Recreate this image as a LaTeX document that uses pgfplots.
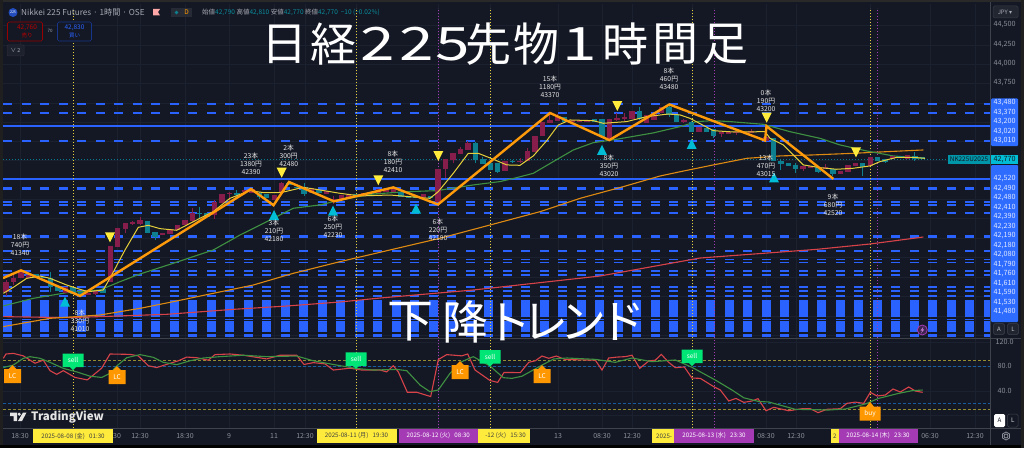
\documentclass[border=0pt]{standalone}
\usepackage{pgfplots}
\usepackage{pgfplotstable}
\pgfplotsset{compat=1.18}
\usepackage{fontspec}
\setmainfont{Noto Sans CJK JP}
\newfontfamily\djv{DejaVu Sans}
\usetikzlibrary{calc}

\definecolor{bg}{HTML}{141824}
\definecolor{gridc}{HTML}{1C2130}
\definecolor{lvl}{HTML}{2962FF}
\definecolor{lab}{HTML}{2E6BFF}
\definecolor{crim}{HTML}{871D4A}
\definecolor{tealc}{HTML}{0E7F8E}
\definecolor{tri}{HTML}{00BCD4}
\definecolor{ylw}{HTML}{FFEB3B}
\definecolor{ma5}{HTML}{E5CF3A}
\definecolor{ma25}{HTML}{3F9142}
\definecolor{ma75}{HTML}{DE8A12}
\definecolor{ma200}{HTML}{D8434A}
\definecolor{zig}{HTML}{FF9A0A}
\definecolor{dotp}{HTML}{A43BB5}
\definecolor{gry}{HTML}{8B8F99}
\definecolor{hdr}{HTML}{A6A9B2}
\definecolor{tvt}{HTML}{0A8C9C}
\definecolor{sellg}{HTML}{00E676}
\definecolor{lco}{HTML}{FF9800}
\newcommand\fs[1]{\fontsize{#1}{#1}\selectfont}

% candles: bar no, body top, body bottom, high, low
\pgfplotstableread{
i t b h l
0 41194 41065 41210 41014
1 41246 41186 41280 41151
2 41315 41246 41315 41246
3 41280 41237 41280 41237
8 41130 41044 41130 41044
11 41053 41018 41053 41018
12 41078 41035 41078 41023
14 41655 41194 41655 41194
15 41891 41646 41891 41646
16 41947 41874 41947 41818
17 41968 41943 41981 41930
18 41990 41938 42033 41930
21 41818 41801 41818 41801
22 41870 41809 41870 41809
23 41930 41857 41930 41857
24 41990 41925 41990 41925
25 42085 41977 42140 41968
28 42227 42055 42248 42000
29 42330 42214 42330 42214
30 42343 42330 42355 42214
32 42377 42355 42377 42355
33 42386 42343 42386 42343
36 42313 42248 42313 42248
37 42463 42334 42485 42334
41 42398 42334 42398 42334
43 42368 42330 42368 42330
44 42257 42239 42300 42196
45 42308 42265 42308 42265
46 42325 42282 42325 42282
48 42343 42300 42343 42300
50 42386 42343 42386 42343
51 42377 42351 42377 42351
52 42399 42351 42399 42351
56 42325 42282 42325 42282
58 42648 42227 42648 42227
59 42773 42644 42773 42528
60 42850 42764 42850 42721
61 42910 42837 42936 42837
62 42983 42893 43009 42893
67 42747 42622 42747 42622
69 42751 42742 42785 42721
70 42876 42755 42915 42755
71 43078 42867 43078 42867
72 43250 43078 43250 43078
73 43280 43237 43345 43237
74 43323 43271 43353 43271
76 43280 43263 43280 43263
77 43280 43259 43280 43259
78 43276 43259 43276 43259
81 43289 43022 43289 43022
82 43310 43284 43366 43271
83 43314 43289 43366 43271
84 43392 43297 43392 43297
86 43345 43237 43345 43237
87 43357 43280 43357 43280
88 43452 43366 43452 43366
91 43280 43254 43289 43237
93 43194 43129 43194 43129
96 43121 43099 43121 43056
97 43125 43104 43125 43104
98 43129 43117 43129 43087
99 43129 43121 43129 43121
100 43138 43121 43160 43121
102 43065 43013 43065 43013
107 42691 42648 42691 42626
108 42687 42665 42687 42665
110 42678 42648 42712 42648
112 42626 42588 42626 42588
113 42695 42614 42695 42614
114 42721 42691 42721 42691
116 42807 42687 42807 42687
119 42816 42773 42816 42773
121 42829 42773 42829 42773
}\upc
\pgfplotstableread{
i t b h l
4 41293 41237 41293 41237
5 41259 41237 41259 41237
6 41237 41121 41324 41065
7 41139 41078 41139 41078
9 41121 41035 41121 41035
10 41065 41014 41065 41014
13 41096 41044 41096 41044
19 41981 41827 41981 41827
20 41831 41775 41831 41732
26 42085 42067 42153 42012
27 42076 42033 42076 42033
31 42334 42321 42377 42291
34 42343 42291 42355 42257
35 42321 42270 42321 42270
38 42463 42441 42463 42441
39 42420 42407 42420 42407
40 42420 42321 42463 42300
42 42377 42343 42377 42343
47 42325 42291 42325 42291
49 42356 42325 42356 42325
53 42356 42291 42356 42291
54 42304 42278 42304 42278
55 42300 42270 42300 42270
57 42300 42274 42300 42274
63 42979 42764 43000 42730
64 42777 42712 42798 42712
65 42721 42635 42721 42635
66 42730 42614 42730 42592
68 42751 42738 42764 42721
75 43314 43259 43314 43237
79 43289 43259 43289 43259
80 43297 43065 43297 43065
85 43392 43293 43452 43280
89 43452 43345 43474 43323
90 43353 43259 43353 43259
92 43259 43129 43271 43129
94 43172 43129 43172 43129
95 43160 43078 43160 43043
101 43138 43125 43138 43125
103 43043 42755 43043 42755
104 42755 42708 42773 42635
105 42721 42687 42721 42687
106 42700 42648 42730 42592
109 42678 42614 42678 42592
111 42648 42583 42648 42558
115 42721 42669 42721 42558
117 42807 42747 42807 42747
118 42773 42738 42773 42721
120 42816 42785 42816 42785
122 42816 42773 42871 42751
123 42798 42773 42798 42773
}\dnc

% marks, origin at the tip
\pgfdeclareplotmark{tup}{\pgfpathmoveto{\pgfqpoint{0pt}{5pt}}\pgfpathlineto{\pgfqpoint{5pt}{-5pt}}\pgfpathlineto{\pgfqpoint{-5pt}{-5pt}}\pgfpathclose\pgfusepathqfill}
\pgfdeclareplotmark{tdn}{\pgfpathmoveto{\pgfqpoint{0pt}{-5pt}}\pgfpathlineto{\pgfqpoint{5pt}{5pt}}\pgfpathlineto{\pgfqpoint{-5pt}{5pt}}\pgfpathclose\pgfusepathqfill}
\pgfdeclareplotmark{sellf}{\pgfsetfillcolor{sellg}\pgfpathmoveto{\pgfqpoint{0pt}{0pt}}\pgfpathlineto{\pgfqpoint{3pt}{3pt}}\pgfpathlineto{\pgfqpoint{10.5pt}{3pt}}\pgfpathlineto{\pgfqpoint{10.5pt}{16.5pt}}\pgfpathlineto{\pgfqpoint{-10.5pt}{16.5pt}}\pgfpathlineto{\pgfqpoint{-10.5pt}{3pt}}\pgfpathlineto{\pgfqpoint{-3pt}{3pt}}\pgfpathclose\pgfusepathqfill\pgftext[at=\pgfqpoint{0pt}{10pt}]{\color{white}\fs{6.5}sell}}
\pgfdeclareplotmark{lcf}{\pgfsetfillcolor{lco}\pgfpathmoveto{\pgfqpoint{0pt}{0pt}}\pgfpathlineto{\pgfqpoint{4pt}{-4pt}}\pgfpathlineto{\pgfqpoint{8.5pt}{-4pt}}\pgfpathlineto{\pgfqpoint{8.5pt}{-18pt}}\pgfpathlineto{\pgfqpoint{-8.5pt}{-18pt}}\pgfpathlineto{\pgfqpoint{-8.5pt}{-4pt}}\pgfpathlineto{\pgfqpoint{-4pt}{-4pt}}\pgfpathclose\pgfusepathqfill\pgftext[at=\pgfqpoint{0pt}{-11pt}]{\color{white}\fs{6.5}LC}}
\pgfdeclareplotmark{buyf}{\pgfsetfillcolor{lco}\pgfpathmoveto{\pgfqpoint{0pt}{0pt}}\pgfpathlineto{\pgfqpoint{4pt}{-5pt}}\pgfpathlineto{\pgfqpoint{10.5pt}{-5pt}}\pgfpathlineto{\pgfqpoint{10.5pt}{-19pt}}\pgfpathlineto{\pgfqpoint{-10.5pt}{-19pt}}\pgfpathlineto{\pgfqpoint{-10.5pt}{-5pt}}\pgfpathlineto{\pgfqpoint{-4pt}{-5pt}}\pgfpathclose\pgfusepathqfill\pgftext[at=\pgfqpoint{0pt}{-12pt}]{\color{white}\fs{6.5}buy}}

\newcommand\lv[2]{\addplot[lvl,line width=#2pt,dash pattern=on 9pt off 9.5pt] coordinates {(3.3,#1)(990,#1)};}
\newcommand\lvs[2]{\addplot[lvl,line width=#2pt] coordinates {(3.3,#1)(990,#1)};}
\newcommand\vd[2]{\addplot[#1,line width=0.9pt,dash pattern=on 1.4pt off 1.6pt] coordinates {(#2,39306)(#2,44724)};}
\newcommand\candles[2]{%
  \addplot[draw=none,mark=none,forget plot,error bars/.cd,y dir=both,y explicit,error mark=none,error bar style={#2,line width=1pt}]
    table[x expr=6+7.45*\thisrow{i},y expr=(\thisrow{t}+\thisrow{b})/2,
      y error plus expr=\thisrow{h}-(\thisrow{t}+\thisrow{b})/2,
      y error minus expr=(\thisrow{t}+\thisrow{b})/2-\thisrow{l}] {#1};
  \addplot[draw=none,mark=none,forget plot,error bars/.cd,y dir=both,y explicit,error mark=none,error bar style={#2,line width=5.4pt}]
    table[x expr=6+7.45*\thisrow{i},y expr=(\thisrow{t}+\thisrow{b})/2,
      y error expr=(\thisrow{t}-\thisrow{b})/2] {#1};}
\newcommand\note[5]{%
  \node[txt] at (#1,#2) {#3};\node[txt] at (#1,#2+8) {#4};\node[txt] at (#1,#2+16) {#5};}
\newcommand\bigc[3]{\node[inner sep=0,white,font=\fs{46}] at (#1,#2) {#3};}
\newcommand\bigd[2]{\node[inner sep=0,white,font=\fs{46}] at (#1,44) {\scalebox{1.35}[1]{#2}};}
\newcommand\pl[2]{\node[inner sep=0,text=white!85!lab,font=\fs{7.2}] at (1004.5,#1) {#2};}
\newcommand\tl[2]{\node[inner sep=0,text=gry,font=\fs{7}] at (#1,436) {#2};}

\begin{document}
\begin{tikzpicture}
\fill[bg] (0,0) rectangle (1024pt,448pt);
\begin{scope}[x=1pt,y=-1pt,shift={(0,448pt)}]
  \foreach \x in {20,117,140,185,229,274,305,356,438,490,558,602,632,692,766,796,870,930,975}
    \draw[gridc,line width=0.7pt] (\x,4) -- (\x,428);
  \foreach \y in {25,45,64,83,103,122,141,160,179,199,218,238,257,277,296,316,335,342,366,391,415}
    \draw[gridc,line width=0.7pt] (3,\y) -- (990,\y);
\end{scope}

% price pane, x in pixels of the chart
\begin{axis}[at={(0,0)},anchor=south west,scale only axis,width=1024pt,height=448pt,
  xmin=0,xmax=1024,ymin=39048.35,ymax=44827.55,axis lines=none,clip=true]
  \lv{43480}{2}\lv{43370}{1.3}\lvs{43200}{2.5}\lv{43010}{2.5}\lvs{42520}{2.5}
  \lv{42400}{3}\lv{42225}{2}\lv{42180}{2}\lv{42080}{1.5}\lv{41775}{3.5}
  \lv{41590}{2}\lv{41480}{1.5}\lv{41440}{1.5}\lv{41330}{1.5}\lv{41280}{1.5}
  \lv{41130}{2}\lv{41070}{2}\lv{41010}{2}\lv{40848}{17}\lv{40712}{1}\lv{40616}{11}\lv{40497}{2.5}
  \addplot[tri!60!bg,line width=0.6pt,dash pattern=on 1pt off 2pt] coordinates {(3,42770)(948,42770)};
  \vd{ma5}{73}\vd{ma5}{356}\vd{ma5}{490}\vd{ma5}{692}\vd{ma5}{870.5}
  \vd{dotp}{438}\vd{dotp}{714}\vd{dotp}{877.5}
  % long averages
  \addplot[ma200,line width=1.1pt] coordinates {(3.3,40743)(66.7,40730)(100,40743)(166.7,40773)(233.3,40837)(286.7,40880)(340,40932)(380,40983)(473,41086)(600,41267)(700,41499)(816.7,41611)(870,41680)(923.3,41770)};
  \addplot[ma75,line width=1.1pt] coordinates {(3.3,40614)(50,40721)(100,40764)(140,40850)(173.3,40936)(213.3,41044)(253.3,41151)(293.3,41302)(340,41452)(390,41603)(440,41754)(490,41925)(540,42097)(580,42269)(623.3,42420)(660,42557)(680,42612)(713.3,42700)(746.7,42785)(780,42816)(813.3,42829)(853.3,42850)(886.7,42871)(923.3,42893)};
  \addplot[ma25,line width=1.1pt] coordinates {(3.3,40881)(33.3,40979)(66.7,41052)(100,41087)(120,41194)(140,41293)(173.3,41431)(213.3,41603)(240,41796)(266.7,41968)(293.3,42141)(320,42184)(340,42248)(373.3,42325)(406.7,42355)(436.7,42368)(473.3,42442)(500,42485)(516.7,42536)(533.3,42592)(553.3,42743)(573.3,42893)(593.3,42987)(616.7,43031)(653.3,43113)(680,43194)(696.7,43259)(713.3,43271)(730,43259)(763.3,43224)(790,43129)(820,43043)(840,42958)(866.7,42880)(893.3,42816)(923.3,42785)};
  \candles{\upc}{crim}
  \candles{\dnc}{tealc}
  \addplot[ma5,line width=1pt] coordinates {(3.3,41044)(13.3,41121)(26.7,41237)(40,41267)(50,41237)(66.7,41151)(80,41095)(88.3,41065)(103.3,41087)(111.7,41280)(125,41603)(138.3,41895)(148.3,41921)(160,41878)(176.7,41857)(193.3,41968)(213.3,42098)(230,42270)(250,42368)(263.3,42343)(278.3,42343)(285,42355)(303.3,42411)(320,42377)(340,42334)(360,42300)(390,42312)(430,42269)(438.3,42356)(453.3,42592)(468.3,42850)(478.3,42850)(493.3,42773)(506.7,42700)(520,42695)(533.3,42816)(546.7,43013)(558.3,43215)(570,43280)(593.3,43271)(603.3,43237)(626.7,43259)(646.7,43323)(668.3,43357)(680,43345)(690,43301)(713.3,43142)(733.3,43125)(765,43129)(770,43043)(783.3,42958)(803.3,42700)(820,42665)(836.7,42644)(853.3,42657)(870,42687)(880,42743)(896.7,42798)(913.3,42798)(925,42785)};
  \addplot[zig,line width=2.4pt,line join=miter] coordinates {(3,41240)(21,41340)(80,41010)(251,42390)(273.5,42180)(289,42480)(334,42230)(393.3,42410)(438,42190)(550,43370)(609.3,43020)(669.3,43480)(765,43015)(766.5,43200)(833.3,42520)};
  \addplot[only marks,mark=tup,color=tri] coordinates {(65,40936)(274,42054)(333,42110)(416,42135)(602,42893)(691.7,42970)(774,42540)};
  \addplot[only marks,mark=tdn,color=ylw] coordinates {(110,41766)(281.7,42600)(378.3,42502)(438.3,42815)(617.3,43460)(766.7,43309)(856,42863)};
\end{axis}

% oscillator pane
\begin{axis}[at={(0,20pt)},anchor=south west,scale only axis,width=1024pt,height=91pt,
  xmin=0,xmax=1024,ymin=-20,ymax=127.56,axis lines=none,clip=false]
  \addplot[ylw!55!bg,line width=0.8pt,dash pattern=on 3pt off 2pt] coordinates {(3,90)(990,90)};
  \addplot[ylw!55!bg,line width=0.8pt,dash pattern=on 3pt off 2pt] coordinates {(3,10)(990,10)};
  \addplot[lvl!60!tri,line width=0.8pt,dash pattern=on 3pt off 2pt,opacity=.6] coordinates {(3,80)(990,80)};
  \addplot[lvl!60!tri,line width=0.8pt,dash pattern=on 3pt off 2pt,opacity=.6] coordinates {(3,20)(990,20)};
  \addplot[ma200,line width=1.1pt] coordinates {(3.3,93)(6,100)(13.3,101)(23.3,97)(35,85)(43.3,90)(50,73)(56.7,67)(63.3,73)(75,62)(87.3,58)(101.7,77)(110,100)(130,99.4)(138.3,97)(148.3,81)(156.7,78)(168.3,84)(178.3,89)(186.7,95)(196.7,94)(208.3,90)(215,99)(230,100)(243.3,98)(266.7,92)(280,98)(296.7,98)(304,83)(313.3,86)(325,84)(333.3,74)(350,77)(361.7,74)(380,74)(386.7,71)(393.3,81)(398.3,71)(407.3,38)(416.7,38)(430.7,31)(438.3,91)(446.7,99)(461.7,97)(467.7,100)(475,74)(490,57)(497.7,54)(504,70)(512,70)(520.3,69.7)(528.7,86.5)(535.3,89)(542,96.7)(548.7,93)(556.3,96.7)(565.3,91)(595.3,90)(602,74)(608.7,93.5)(617,95)(625.3,95.7)(632,98)(639.7,76.7)(648.7,88.6)(655.3,90)(661.3,99.4)(668.7,86.5)(675.3,77.8)(684.3,79)(692,61)(700.3,60.5)(713.7,47)(720.3,41.6)(728.7,23.8)(736,28)(743.7,21.6)(752,23.8)(758,27.6)(766,8)(773.7,13.5)(788.7,8)(802,11.3)(810.3,11.3)(818,4.9)(827,10.3)(840.3,11.3)(847,20)(855.3,22)(863.7,20)(870.3,37.8)(877,31.9)(885.3,33.5)(893,43.2)(900.3,38.4)(908.7,46.5)(915.3,40)(922.7,37.8)};
  \addplot[ma25,line width=1.1pt] coordinates {(3.3,78)(13.3,82)(23.3,93)(30,95.7)(40,93)(50,86.5)(63.3,76.7)(76.7,71)(90,64)(101.7,62)(110,68.6)(116.7,80.5)(126.7,94)(140,99)(153.3,94.6)(163.3,86.5)(176.7,82.7)(190,89)(203.3,93.5)(220,95.7)(243.3,98)(266.7,95.7)(296.7,96.7)(313.3,89)(333.3,83)(355.7,76.7)(373.3,74)(396.7,75)(406.7,73)(420,49.7)(430,38.9)(438.3,41.6)(450,68.6)(461.7,87.5)(473.3,95.7)(490,80.5)(503.3,61.6)(512,60.5)(522,64)(532,73)(542,82)(553.7,91.9)(567,93.5)(595.3,91.3)(615.3,86.5)(632,93.5)(652,87.5)(675.3,90.3)(692,78.4)(715.3,57.8)(732,41.6)(743.7,29)(758.7,23)(768.7,22.2)(795.3,10.3)(828.7,9.2)(845.3,10.8)(865.3,18.9)(878.7,28.1)(898.7,36.2)(912,40.5)(922.7,41.6)};
  \addplot[only marks,mark=sellf] coordinates {(73,74)(356,75.7)(490,79.4)(692,80.5)};
  \addplot[only marks,mark=lcf] coordinates {(12.6,82)(117,80.5)(460,88.6)(542,82)};
  \addplot[only marks,mark=buyf] coordinates {(870,22.6)};
\end{axis}

% chrome round the panes, in pixels from the top left
\begin{scope}[x=1pt,y=-1pt,shift={(0,448pt)},txt/.style={inner sep=0,text=white!80!gray,font=\fs{6.8}}]
  \fill[white!16!black] (0,0) rectangle (1024,2.5);
  \fill[white!12!black] (0,0) rectangle (3,448);
  \fill[black] (0,445) rectangle (1024,448);
  \fill[white!12!black] (1021,0) rectangle (1024,448);
  \draw[white!18!bg,line width=0.8pt] (990.5,2.5) -- (990.5,445);
  \draw[white!18!bg,line width=0.8pt] (3,428) -- (1021,428);
  \draw[white!18!bg,line width=0.8pt] (3,338) -- (1021,338);

  % notes on the swings
  \note{20}{237}{18本}{740円}{41340}
  \note{80}{313}{8本}{330円}{41010}
  \note{251}{156}{23本}{1380円}{42390}
  \note{288.7}{148}{2本}{300円}{42480}
  \note{274}{223.3}{3本}{210円}{42180}
  \note{333}{219}{6本}{250円}{42230}
  \note{393}{154}{8本}{180円}{42410}
  \note{438}{222.3}{6本}{220円}{42190}
  \note{550}{79.3}{15本}{1180円}{43370}
  \note{669}{70.7}{8本}{460円}{43480}
  \note{609}{158.3}{8本}{350円}{43020}
  \note{766}{92.7}{0本}{190円}{43200}
  \note{766}{158.3}{13本}{470円}{43015}
  \note{833}{196.7}{9本}{680円}{42520}

  % header
  \fill[lvl!70!bg] (13,12.5) circle (4.5);
  \node[inner sep=0,white,font=\fs{3.6}] at (13,12.5) {225};
  \node[inner sep=0,anchor=west,text=hdr,font=\fs{8.2}] at (21,12.5) {Nikkei 225 Futures · 1時間 · OSE};
  \fill[red!35!white] (153,9) -- (160,9) -- (158,12) -- (160,15.5) -- (153,15.5) -- cycle;
  \fill[white!8!bg] (171,8) rectangle (192,17);
  \fill[tealc] (176.5,12.5) circle (1.8);
  \node[inner sep=0,text=lco,font=\fs{6.5}] at (186.5,12.5) {D};
  \node[inner sep=0,anchor=west,font=\fs{6.5}] at (202,12.7) {\textcolor{hdr}{始値}\textcolor{tvt}{42,790} \textcolor{hdr}{高値}\textcolor{tvt}{42,810} \textcolor{hdr}{安値}\textcolor{tvt}{42,770} \textcolor{hdr}{終値}\textcolor{tvt}{42,770}\ \ \textcolor{tvt}{−10 (−0.02\%)}};
  \draw[red!60!black,fill=bg,line width=0.7pt,rounded corners=1.5] (7.5,22) rectangle (42.5,41);
  \node[inner sep=0,text=red!75!black,font=\fs{6.5}] at (27,27.5) {42,760};
  \node[inner sep=0,text=red!75!black,font=\fs{5.5}] at (27,35.5) {売り};
  \node[inner sep=0,text=hdr,font=\fs{4.5}] at (50,31) {70};
  \draw[lvl!55!black,fill=bg,line width=0.7pt,rounded corners=1.5] (57.5,22) rectangle (91.5,41);
  \node[inner sep=0,text=lvl,font=\fs{6.5}] at (74.5,27.5) {42,830};
  \node[inner sep=0,text=lvl,font=\fs{5.5}] at (74.5,35.5) {買い};
  \draw[white!10!bg,fill=white!4!bg,line width=0.5pt,rounded corners=1] (7,45) rectangle (24,56);
  \node[inner sep=0,text=hdr,font=\fs{5.5}] at (15.5,50.5) {∨ 2};

  % price scale
  \draw[white!15!bg,fill=white!6!bg,rounded corners=1.5,line width=0.5pt] (993,6) rectangle (1018,18);
  \node[inner sep=0,text=hdr,font=\fs{6}] at (1005,12) {JPY {\djv ▾}};
  \foreach \y/\t in {25/{44,500},45/{44,250},64/{44,000},83/{43,750}}
    \node[inner sep=0,text=gry,font=\fs{7.2}] at (1004.5,\y) {\t};
  \fill[lab,rounded corners=1] (991,98.5) rectangle (1018,146);
  \fill[lab,rounded corners=1] (991,165) rectangle (1018,322);
  \pl{103}{43,480}\pl{113}{43,370}\pl{122}{43,200}\pl{131.5}{43,020}\pl{141}{43,010}
  \pl{179}{42,520}\pl{188.5}{42,490}\pl{198}{42,480}\pl{207.5}{42,410}\pl{217}{42,390}
  \pl{226.5}{42,230}\pl{236}{42,190}\pl{245.5}{42,180}\pl{255}{42,080}\pl{264.5}{41,790}
  \pl{274}{41,760}\pl{284}{41,610}\pl{293}{41,590}\pl{303}{41,530}\pl{312}{41,480}
  \fill[tri!80!black] (948,155) rectangle (989.5,164);
  \fill[tri] (990.5,155) rectangle (1018,164);
  \node[inner sep=0,text=bg,font=\fs{6.4}] at (969,159.5) {NK225U2025};
  \node[inner sep=0,text=bg,font=\fs{7.2}] at (1004.5,159.5) {42,770};
  \foreach \x/\t in {999/A,1013/L}{
    \draw[white!18!bg,fill=white!5!bg,rounded corners=1.5,line width=0.5pt] (\x-5.5,323.5) rectangle (\x+5.5,334.5);
    \node[inner sep=0,text=white!75!bg,font=\fs{6}] at (\x,329) {\t};}
  \foreach \y/\t in {342/120.0,366/80.0,391/40.0}
    \node[inner sep=0,text=gry,font=\fs{7.2}] at (1004.5,\y) {\t};
  \fill[white,rounded corners=1.5] (994,414) rectangle (1005,427);
  \node[inner sep=0,text=bg,font=\fs{6.2}] at (999.5,420.5) {A};
  \draw[white!18!bg,fill=bg,rounded corners=1.5,line width=0.5pt] (1007.5,414) rectangle (1018,427);
  \node[inner sep=0,text=white!85!bg,font=\fs{6.2}] at (1012.7,420.5) {L};
  \draw[dotp,fill=dotp!30!bg,line width=0.8pt] (922.3,330) circle (5);
  \fill[dotp!70!white] (923.5,326.5) -- (920.5,330.5) -- (922.3,330.5) -- (921,333.5) -- (924.2,329.4) -- (922.4,329.4) -- cycle;

  % time axis
  \tl{20}{18:30}\tl{117}{30}\tl{140}{12:30}\tl{185}{18:30}\tl{229}{9}\tl{274}{11}\tl{305}{12:30}
  \tl{558}{13}\tl{602}{08:30}\tl{632}{12:30}\tl{766}{08:30}\tl{796}{12:30}\tl{930}{06:30}\tl{975}{12:30}
  \fill[ylw] (33,429) rectangle (113,443);
  \node[inner sep=0,text=black!75,font=\fs{6.2}] at (73,436) {2025-08-08 (金)\ \ \ 01:30};
  \fill[ylw] (316.5,429) rectangle (396.5,443);
  \node[inner sep=0,text=black!75,font=\fs{6.2}] at (356.5,436) {2025-08-11 (月)\ \ \ 19:30};
  \fill[ylw] (470,429) rectangle (530,443);
  \node[inner sep=0,anchor=east,text=black!75,font=\fs{6.2}] at (526,436) {-12 (火)\ \ \ 15:30};
  \fill[dotp] (398.5,429) rectangle (478,443);
  \node[inner sep=0,text=white,font=\fs{6.2}] at (438.3,436) {2025-08-12 (火)\ \ \ 08:30};
  \fill[ylw] (652,429) rectangle (676,443);
  \node[inner sep=0,anchor=west,text=black!75,font=\fs{6.2}] at (656,436) {2025-};
  \fill[dotp] (674,429) rectangle (754,443);
  \node[inner sep=0,text=white,font=\fs{6.2}] at (714,436) {2025-08-13 (水)\ \ \ 23:30};
  \fill[ylw] (831,429) rectangle (840,443);
  \node[inner sep=0,anchor=west,text=black!75,font=\fs{6.2}] at (833,436) {2};
  \fill[dotp] (838.5,429) rectangle (918,443);
  \node[inner sep=0,text=white,font=\fs{6.2}] at (878,436) {2025-08-14 (木)\ \ \ 23:30};
  \draw[gry,line width=0.8pt] (1006,436) circle (2);
  \draw[gry,line width=0.8pt] (1006,432) -- (1009.5,434) -- (1009.5,438) -- (1006,440) -- (1002.5,438) -- (1002.5,434) -- cycle;

  % TradingView mark
  \fill[white!80!gray] (10,412.5) -- (17,412.5) -- (17,421) -- (13.5,421) -- (13.5,416) -- (10,416) -- cycle;
  \fill[white!80!gray] (19.2,414.2) circle (1.7);
  \fill[white!80!gray] (23,412.5) -- (26.5,412.5) -- (22,421) -- (18,421) -- cycle;
  \node[inner sep=0,anchor=west,text=white!80!gray,font=\fs{11.5}\bfseries] at (31,417) {TradingView};

  % titles
  \bigc{284}{44}{日}\bigc{333}{44}{経}
  \bigd{378}{2}\bigd{417}{2}\bigd{453}{5}
  \bigc{488}{44}{先}\bigc{536}{44}{物}
  \bigd{580}{1}
  \bigc{625}{44}{時}\bigc{675}{44}{間}\bigc{725}{44}{足}
  \bigc{410}{322}{下}\bigc{465}{322}{降}\bigc{508}{322}{ト}\bigc{545}{322}{レ}\bigc{583}{322}{ン}\bigc{622}{322}{ド}
\end{scope}
\end{tikzpicture}
\end{document}
